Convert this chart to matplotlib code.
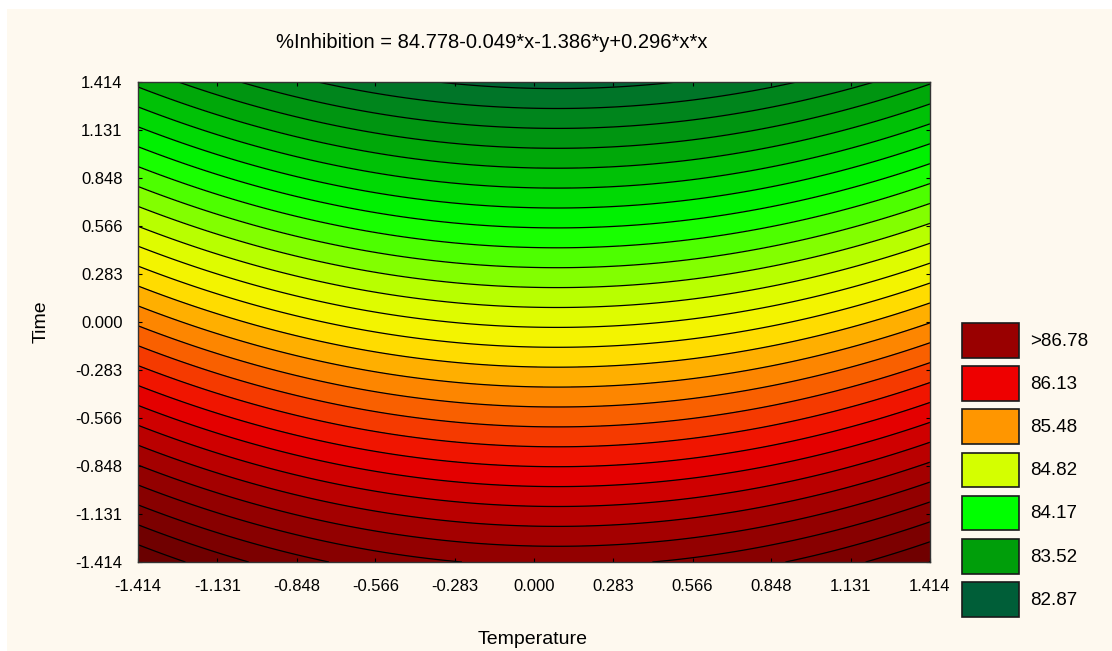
import numpy as np
import matplotlib
matplotlib.use('Agg')
import matplotlib.pyplot as plt
from matplotlib.colors import LinearSegmentedColormap
from matplotlib.patches import Rectangle

plt.rcParams['font.family'] = ['Liberation Sans', 'DejaVu Sans']

# fitted surface: z = b0 + bx*x + by*y + bxx*x*x  (from the title)
coef_names = ['b0', 'bx', 'by', 'bxx']
coef_values = [84.778, -0.049, -1.386, 0.296]

# coded axis range and tick labels
ticks = [-1.414, -1.131, -0.848, -0.566, -0.283, 0.000, 0.283, 0.566, 0.848, 1.131, 1.414]

# legend levels (upper bounds) and their colours
legend_levels = [82.87, 83.52, 84.17, 84.82, 85.48, 86.13, 86.78]
legend_labels = ['82.87', '83.52', '84.17', '84.82', '85.48', '86.13', '>86.78']
legend_colors = ['#005e38', '#009e0a', '#00ff00', '#d4ff00', '#ff9600', '#ee0000', '#990000']

W, H = 1112, 651
fig = plt.figure(figsize=(W / 100, H / 100), dpi=100)
fig.patch.set_facecolor('white')

# background / legend layer in pixel coords
bg = fig.add_axes([0, 0, 1, 1], zorder=-1)
bg.set_xlim(0, W)
bg.set_ylim(H, 0)
bg.axis('off')
bg.add_patch(Rectangle((7, 9), W - 7, H - 9, facecolor='#fef9ef', edgecolor='none'))

ax = fig.add_axes([138 / W, 1 - 562 / H, (930 - 138) / W, (562 - 82) / H])

b0, bx, by, bxx = coef_values
x = np.linspace(ticks[0], ticks[-1], 300)
y = np.linspace(ticks[0], ticks[-1], 300)
X, Y = np.meshgrid(x, y)
Z = b0 + bx * X + by * Y + bxx * X * X

# colour ramp through the legend colours (plus a yellow between 84.82 and 85.48),
# extended a bit on both ends
step = legend_levels[1] - legend_levels[0]
anchors = ([legend_levels[0] - step] + legend_levels[:4]
           + [(legend_levels[3] + legend_levels[4]) / 2]
           + legend_levels[4:] + [legend_levels[-1] + step])
anchor_cols = (['#00462a'] + legend_colors[:4] + ['#fff000']
               + legend_colors[4:] + ['#6a0000'])
lo, hi = anchors[0], anchors[-1]
cmap = LinearSegmentedColormap.from_list(
    'stat', [((a - lo) / (hi - lo), c) for a, c in zip(anchors, anchor_cols)])

sub = step / 4
levels = np.arange(legend_levels[0] - 2 * sub, Z.max() + sub, sub)
levels = levels[levels > Z.min() - sub]
band_cols = [cmap((min(max(u + sub / 2, lo), hi) - lo) / (hi - lo)) for u in levels[1:]]
ax.contourf(X, Y, Z, levels=levels, colors=band_cols)
ax.contour(X, Y, Z, levels=levels, colors='black', linewidths=0.9)

ax.set_xlim(ticks[0], ticks[-1])
ax.set_ylim(ticks[0], ticks[-1])
ax.set_xticks(ticks)
ax.set_yticks(ticks)
ax.set_xticklabels([f'{t:.3f}' for t in ticks])
ax.set_yticklabels([f'{t:.3f}' for t in ticks])
ax.tick_params(direction='in', length=3, width=0.8, top=True, right=True,
               labelsize=12, colors='black', pad=12)
ax.tick_params(axis='y', pad=11)
for s in ax.spines.values():
    s.set_linewidth(1)
    s.set_color('#333333')

bg.text(492, 42, '%Inhibition = 84.778-0.049*x-1.386*y+0.296*x*x',
        ha='center', va='center', fontsize=14.5)
bg.text(533, 639, 'Temperature', ha='center', va='center', fontsize=14)
bg.text(41, 322, 'Time', ha='center', va='center', rotation=90, fontsize=14)

# legend, top entry is the highest level
for i, (lab, col) in enumerate(zip(legend_labels[::-1], legend_colors[::-1])):
    top = 323 + i * 43.2
    bg.add_patch(Rectangle((962, top), 57, 34.5, facecolor=col,
                           edgecolor='#1a1a1a', linewidth=1.2))
    bg.text(1030, top + 18, lab, ha='left', va='center', fontsize=13.5)

fig.savefig('out.png', dpi=100)
